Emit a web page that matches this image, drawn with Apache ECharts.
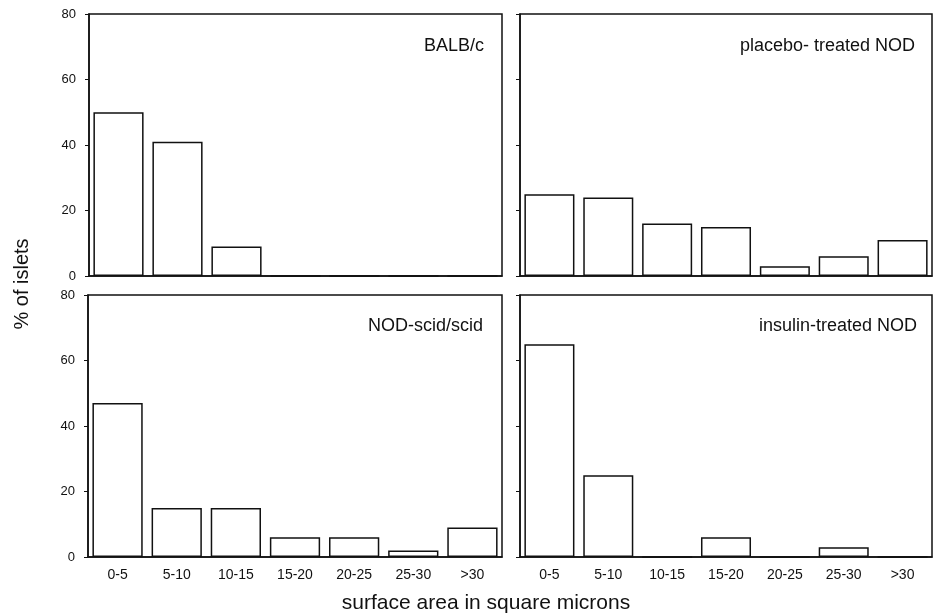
<!DOCTYPE html>
<html>
<head>
<meta charset="utf-8">
<script src="https://cdn.jsdelivr.net/npm/echarts@6/dist/echarts.min.js"></script>
<style>
  html, body { margin: 0; padding: 0; background: #fff; }
  #main { width: 935px; height: 616px; }
</style>
</head>
<body>
<div id="main"></div>
<script>
// size classes (square microns)
var categories = ['0-5', '5-10', '10-15', '15-20', '20-25', '25-30', '>30'];
// % of islets per panel
var balbc = [50, 41, 9, 0, 0, 0, 0];
var placeboNOD = [25, 24, 16, 15, 3, 6, 11];
var nodScid = [47, 15, 15, 6, 6, 2, 9];
var insulinNOD = [65, 25, 0, 6, 0, 3, 0];
var yTicks = [0, 20, 40, 60, 80];
var panelNames = ['BALB/c', 'placebo- treated NOD', 'NOD-scid/scid', 'insulin-treated NOD'];

var font = 'Liberation Sans, Arial, Helvetica, sans-serif';
var panels = [balbc, placeboNOD, nodScid, insulinNOD];

// panel boxes
var grids = [
    { left: 89, top: 14, width: 413, height: 262 },
    { left: 520, top: 14, width: 412, height: 262 },
    { left: 88, top: 295, width: 414, height: 262 },
    { left: 520, top: 295, width: 412, height: 262 }
];

var dom = document.getElementById('main');
var myChart = echarts.init(dom);

function label(txt, x, y, size, extra) {
    var el = {
        type: 'text', x: x, y: y,
        style: { text: txt, fill: '#111', font: size + 'px ' + font, textAlign: 'right', textVerticalAlign: 'middle' }
    };
    if (extra) {
        for (var k in extra) el[k] = extra[k];
    }
    return el;
}

var option = {
    backgroundColor: '#fff',
    animation: false,
    grid: grids.map(function (g) {
        return {
            left: g.left, top: g.top, width: g.width, height: g.height,
            show: true,
            borderColor: '#111',
            borderWidth: 1.5,
            backgroundColor: 'transparent'
        };
    }),
    xAxis: panels.map(function (d, i) {
        return {
            type: 'category',
            gridIndex: i,
            data: categories,
            axisLine: { show: true, lineStyle: { color: '#111', width: 1.5 } },
            axisTick: { show: false },
            axisLabel: {
                show: i >= 2,
                color: '#111',
                fontSize: 14,
                fontFamily: font,
                margin: 11
            },
            splitLine: { show: false }
        };
    }),
    yAxis: panels.map(function (d, i) {
        return {
            type: 'value',
            gridIndex: i,
            min: yTicks[0],
            max: yTicks[yTicks.length - 1],
            interval: yTicks[1] - yTicks[0],
            axisLine: { show: true, lineStyle: { color: '#111', width: 1.5 } },
            axisTick: { show: true, inside: false, length: 4, lineStyle: { color: '#111' } },
            axisLabel: {
                show: i % 2 === 0,
                color: '#111',
                fontSize: 13,
                fontFamily: font,
                margin: 13
            },
            splitLine: { show: false }
        };
    }),
    series: panels.map(function (d, i) {
        return {
            type: 'bar',
            xAxisIndex: i,
            yAxisIndex: i,
            data: d,
            barCategoryGap: '15%',
            itemStyle: {
                color: '#fff',
                borderColor: '#111',
                borderWidth: 1.5
            }
        };
    }),
    graphic: [
        label(panelNames[0], 484, 46, 18),
        label(panelNames[1], 915, 46, 18),
        label(panelNames[2], 483, 326, 18),
        label(panelNames[3], 917, 326, 18),
        {
            type: 'text', x: 22, y: 284, rotation: Math.PI / 2,
            style: { text: '% of islets', fill: '#111', font: '20px ' + font, textAlign: 'center', textVerticalAlign: 'middle' }
        },
        {
            type: 'text', x: 486, y: 603,
            style: { text: 'surface area in square microns', fill: '#111', font: '21px ' + font, textAlign: 'center', textVerticalAlign: 'middle' }
        }
    ]
};

myChart.setOption(option, true);
window.onresize = myChart.resize;
</script>
</body>
</html>
